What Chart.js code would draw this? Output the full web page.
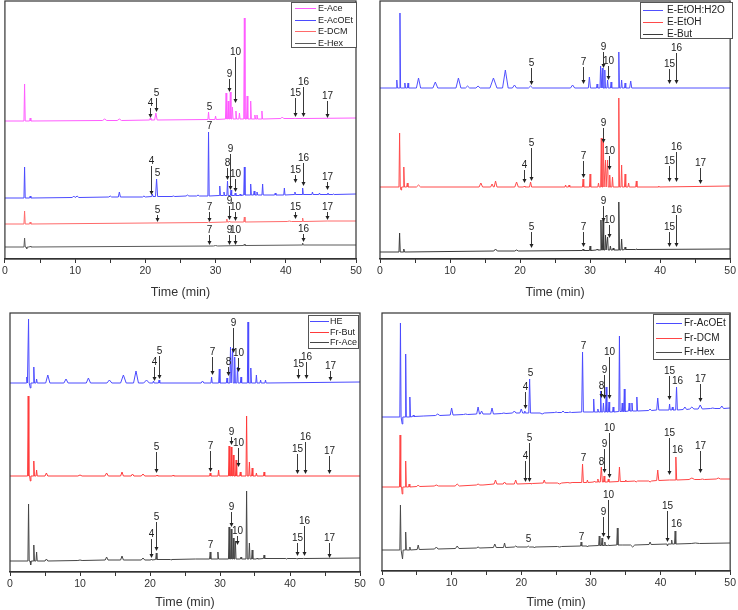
<!DOCTYPE html>
<html lang="en">
<head>
<meta charset="utf-8">
<title>Chromatograms</title>
<script src="https://cdn.jsdelivr.net/npm/chart.js"></script>
<style>
  body { margin: 0; background: #fff; }
  .panel { position: absolute; }
</style>
</head>
<body>
<div class="panel" style="left:0;top:0;width:370px;height:300px"><canvas id="chartA"></canvas></div>
<div class="panel" style="left:370px;top:0;width:368px;height:300px"><canvas id="chartB"></canvas></div>
<div class="panel" style="left:0;top:300px;width:370px;height:310px"><canvas id="chartC"></canvas></div>
<div class="panel" style="left:370px;top:300px;width:368px;height:310px"><canvas id="chartD"></canvas></div>
<script>
const timeTickLabels = [0, 10, 20, 30, 40, 50];

// peaks: [time, base, top, half width (optional)] - values relative to the trace offset
// marks: [label, time, arrow tip value (null = no arrow), label value]

// --- top left
const eAce = [[0,0,0],[2.8,0,37],[3.6,0,3],[14.2,0.5,2,0.3],[16.3,0.5,2,0.3],[20.7,1,3],[21.5,1,8,0.18],[29.0,1.5,9],[30.0,1.5,5],[31.5,2,28],[31.8,2,20],[32.1,2,29],[32.4,2,14],[32.9,2,10],[33.4,2,8],[34.1,2,103],[34.5,2,25],[35.0,2,20],[35.6,2,6],[35.9,2,6],[36.6,2,10],[39.5,2.5,4,0.2],[41.3,2.5,3],[42.4,2.5,3],[50,3,3]];
const eAcOEt = [[0,0,0],[2.8,0,31],[3.6,0,2],[9.8,0.5,2,0.2],[10.3,0.5,2,0.2],[15.0,1,2,0.2],[16.3,1,6,0.15],[19.8,1,2,0.2],[21.0,1.5,4],[21.6,1.5,19,0.15],[24.0,1.5,2,0.2],[26.0,2,3,0.2],[27.5,2,3,0.2],[29.0,2,66],[30.6,2.5,12],[31.2,2.5,6],[31.7,2.5,17],[32.2,2.5,8],[32.8,2.5,5],[33.5,2.5,4],[34.1,3,31],[35.0,3,14],[35.5,3,7],[35.9,3,6],[36.7,3,14],[38.5,3,5],[39.8,3,10],[41.3,3.5,6],[42.4,3.5,10],[43.8,3.5,6],[44.8,3.5,5],[46.0,3.5,5],[46.8,3.5,4],[50,4,4]];
const eDcm = [[0,0,0],[2.8,0,13],[3.6,0,2],[29.0,1.5,2],[31.6,2,5],[32.0,2,3],[34.1,2,7],[40.5,2.5,3,0.3],[42.4,2.5,6],[45.9,3,3,0.3],[50,3,3]];
const eHex = [[0,0,0],[2.8,0,9],[3.1,0,-2],[3.6,0,1],[30.0,1,1.5,0.3],[34.1,1.5,3],[42.4,2,4],[50,2,2]];
const offsetsA = [138, 61, 35, 12];
const eAceMarks = [['4',20.7,141,156],['5',21.5,147,166],['5',29.0,null,152],['9',31.9,167,185],['10',32.7,156,207],['15',41.3,142,166],['16',42.4,142,177],['17',45.8,141,163]];
const eAcOEtMarks = [['4',20.8,64,98],['5',21.6,null,86],['7',29.0,null,133],['8',31.6,79,96],['9',32.0,69,110],['10',32.7,67,85],['15',41.3,76,89],['16',42.5,73,101],['17',45.9,69,82]];
const eDcmMarks = [['5',21.6,37,49],['7',29.0,37,52],['9',31.9,39,58],['10',32.8,38,52],['15',41.3,40,52],['17',45.9,39,52]];
const eHexMarks = [['7',29.0,14,29],['9',31.9,14,29],['10',32.8,14,29],['16',42.4,17,30]];
const namesA = ['E-Ace', 'E-AcOEt', 'E-DCM', 'E-Hex'];

// --- top right
const eEtH2o = [[0,0,0],[2.4,0,8],[2.85,0,75],[3.55,0,5],[4.0,0,5],[5.5,0,10,0.3],[7.9,0,6,0.35],[11.2,0,10,0.35],[12.5,0,2,0.3],[14.0,0,2,0.3],[16.2,0,10,0.5],[17.9,0,18,0.4],[19.2,0,3,0.3],[21.5,0,2,0.3],[27.5,0,3,0.3],[29.9,0,11,0.15],[31.0,0,4],[31.5,0,22],[31.75,0,20],[32.1,0,18],[32.5,0,8],[33.0,0,6],[34.1,0,36],[34.5,0,8],[35.0,0,5],[35.8,0,7,0.15],[50,0,0]];
const eEtOH = [[0,0,0],[2.8,0,54],[3.0,0,-3],[3.4,0,20],[3.9,0,4],[5.5,0,2,0.3],[14.4,0,4,0.25],[16.0,0,3,0.2],[16.5,0,6,0.2],[19.5,0,5,0.25],[20.6,0,1],[21.5,0,5,0.15],[26.5,0,2],[27.0,0,2],[29.0,0,8],[30.0,0,13],[31.2,0,4],[31.6,0,49],[31.9,0,45],[32.2,0,27],[32.5,0,27],[32.8,0,12],[33.2,0,10],[34.1,0,89],[34.5,0,22],[35.0,0,13],[35.5,0,4],[36.6,0,6],[39.8,0,1],[50,1,1]];
const eBut = [[0,0,0],[2.8,0,19],[3.4,0,3],[16.5,1,3,0.25],[19.5,1,2,0.25],[29.0,1.5,3],[30.0,1.5,6],[31.0,2,3],[31.55,2,32],[31.85,2,32],[32.2,2,17],[32.5,2,15],[32.9,2,6],[33.3,2,4],[34.1,2,50],[34.5,2,13],[35.0,2.5,5],[36.6,2.5,3],[50,3,3]];
const offsetsB = [171, 72, 7];
const eEtH2oMarks = [['5',21.5,174,196],['7',29.0,175,197],['9',31.8,191,212],['10',32.6,179,198],['15',41.2,175,195],['16',42.3,175,211]];
const eEtOHMarks = [['4',20.6,76,94],['5',21.5,78,116],['7',29.0,81,103],['9',31.9,116,136],['10',32.7,89,108],['15',41.2,77,98],['16',42.3,77,112],['17',45.7,75,96]];
const eButMarks = [['5',21.5,11,32],['7',29.0,12,32],['9',31.9,37,58],['10',32.7,21,39],['15',41.2,12,32],['16',42.3,12,49]];
const namesB = ['E-EtOH:H2O', 'E-EtOH', 'E-But'];

// --- bottom left
const he = [[0,0,0],[2.4,0,6],[2.65,0,64],[2.9,0,-5],[3.4,0,16],[3.8,0,4],[5.4,0,8,0.3],[8.0,0,4,0.3],[11.2,0,5,0.3],[14.2,0,3,0.35],[16.2,0,8,0.4],[18.0,0,12,0.35],[19.5,0,3,0.4],[20.5,0,2],[21.3,0,3],[27.5,0,2,0.2],[28.8,0,6],[29.9,0,14],[31.0,0,5],[31.5,0,36],[31.8,0,35],[32.1,0,26],[32.5,0,16],[33.0,0,6],[34.0,0,61],[34.4,0,15],[35.2,0,8],[35.8,0,3],[36.5,0,3],[50,1,1]];
const frBut = [[0,0,0],[2.6,0,80],[2.9,0,-5],[3.4,0,15],[3.8,0,6],[5.2,0,3,0.2],[10.0,0,1,0.3],[13.8,0,3,0.25],[16.0,0,4,0.2],[17.5,0,2,0.2],[19.0,0,2,0.25],[21.0,0,1],[23.3,0,1],[28.6,0,3],[29.8,0,6],[31.3,0,30],[31.6,0,29],[31.9,0,21],[32.3,0,16],[32.9,0,4],[33.8,0,60],[34.2,0,14],[34.6,0,8],[35.2,0,3],[36.3,0,4],[50,0,0]];
const frAce = [[0,0,0],[2.65,0,57],[2.95,0,-4],[3.4,0,16],[3.8,0,9],[5.2,0,2,0.2],[10.0,0.5,1,0.3],[13.8,1,4,0.2],[16.0,1,5,0.2],[19.0,1,3,0.25],[20.2,1,2],[20.9,1.5,8],[23.0,1.5,1],[26.5,2,2,0.2],[28.6,2,9],[29.7,2,9],[31.3,2,34],[31.6,2,32],[31.9,2,23],[32.2,2,20],[33.0,2,4],[33.8,2,70],[34.2,2,18],[34.6,2,11],[35.3,2,3],[36.3,2.5,6],[39.5,2.5,2],[41.0,2.5,2],[42.0,2.5,3],[50,3,3]];
const offsetsC = [189, 96, 11];
const heMarks = [['4',20.5,191,210],['5',21.3,193,221],['7',28.8,197,220],['8',31.1,196,210],['9',31.8,219,249],['10',32.5,200,219],['15',41.2,193,208],['16',42.3,193,215],['17',45.7,191,206]];
const frButMarks = [['5',20.9,99,125],['7',28.6,100,126],['9',31.5,127,140],['10',32.5,105,129],['15',41.0,98,123],['16',42.1,98,135],['17',45.6,98,121]];
const frAceMarks = [['4',20.2,14,38],['5',20.9,21,55],['7',28.6,null,27],['9',31.5,45,65],['10',32.4,27,41],['15',41.0,16,34],['16',42.0,16,51],['17',45.5,14,34]];
const namesC = ['HE', 'Fr-But', 'Fr-Ace'];

// --- bottom right
const frAcOEt = [[0,0,0],[2.65,0,94],[2.9,0,-7],[3.4,0,63],[4.0,0,20],[4.5,0.5,2],[6.0,1,1],[8.0,1.5,3,0.3],[10.0,2,9,0.2],[12.0,2.5,3,0.3],[13.8,3,10,0.2],[14.3,3,6,0.2],[15.8,3,9,0.2],[17.5,3.5,4,0.3],[19.0,4,6,0.25],[20.0,4,8,0.2],[20.5,4,6],[21.2,4,38,0.12],[23.0,4,3,0.3],[25.0,4.5,5,0.2],[26.0,4.5,6,0.2],[27.0,4.5,5,0.2],[28.8,5,65,0.12],[30.4,5,18],[31.0,5,8],[31.4,5,26],[31.8,5,14],[32.2,5,30],[32.6,5,15],[33.2,5,10],[34.1,5.5,81],[34.5,5.5,14],[34.8,5.5,28],[35.5,6,14],[35.9,6,14],[36.6,6,20],[38.5,6.5,8,0.2],[39.6,7,19,0.15],[41.3,7,13],[41.7,7,10],[42.3,7,30,0.12],[43.5,7.5,10,0.25],[44.5,8,10,0.3],[45.7,8,12,0.3],[47.5,8.5,9,0.3],[48.8,8.5,11,0.25],[50,9,9]];
const frDcm = [[0,0,0],[2.6,0,52],[2.9,0,-7],[3.4,0,26],[3.9,0,3],[5.2,0.5,2,0.2],[7.8,1,2,0.3],[10.8,1,3,0.3],[13.8,2,3,0.25],[14.5,2,2,0.2],[16.3,3,7,0.2],[17.6,3,5,0.2],[19.2,3,7,0.2],[21.5,3.5,3],[23.3,4,7,0.15],[25.5,4,3,0.3],[27.0,4.5,4,0.3],[28.8,4.5,23,0.12],[29.5,4.5,7],[30.5,5,6],[31.0,5,8],[31.5,5,20,0.15],[31.9,5,11],[32.5,5,8],[34.1,5.5,20,0.12],[35.0,5.5,7],[36.5,6,5,0.2],[38.5,6,5,0.2],[39.6,6.5,17,0.15],[41.3,7,7],[41.8,7,7],[42.2,7,30,0.12],[44.5,7.5,9,0.4],[46.0,7.5,8,0.3],[48.3,8,9,0.3],[50,8,8]];
const frHex = [[0,0,0],[2.65,0,45],[2.95,0,-9],[3.4,0,18],[4.0,0,3],[5.2,0.5,5,0.15],[7.8,1,3,0.25],[10.8,1.5,4,0.25],[13.8,2,3,0.25],[16.2,2.5,6,0.2],[17.6,2.5,7,0.15],[19.2,3,4,0.2],[21.0,3,4,0.15],[21.9,3,2],[25.5,3.5,3,0.3],[28.6,4,8],[29.5,4,3],[31.2,4.5,14],[31.6,4.5,12],[32.0,4.5,8],[32.5,4.5,5],[33.8,5,22],[34.5,5,5],[36.0,5,3,0.3],[38.5,5.5,8,0.15],[41.0,6,4],[41.6,6,10],[42.1,6,19],[45.0,6.5,7,0.6],[50,7,7]];
const offsetsD = [154, 84, 21];
const frAcOEtMarks = [['4',20.5,162,184],['5',21.2,null,198],['7',28.8,null,225],['8',31.4,173,185],['9',31.9,172,201],['10',32.6,172,219],['15',41.2,171,200],['16',42.3,null,190],['17',45.7,169,192]];
const frDcmMarks = [['4',20.5,89,115],['5',21.1,89,133],['7',28.8,null,113],['8',31.4,null,109],['9',31.9,98,127],['10',32.6,93,143],['15',41.2,96,138],['16',42.3,null,121],['17',45.7,98,125]];
const frHexMarks = [['5',21.0,null,32],['7',28.6,null,34],['9',31.7,34,59],['10',32.4,31,76],['15',41.0,29,65],['16',42.2,null,47]];
const namesD = ['Fr-AcOEt', 'Fr-DCM', 'Fr-Hex'];

Chart.defaults.font.family = '"Liberation Sans", Arial, sans-serif';

function buildTrace(peaks, offset) {
  const pts = [];
  peaks.forEach(([t, base, top, w = 0.09]) => {
    if (top === base) { pts.push({x: t, y: offset + base}); return; }
    pts.push({x: t - w, y: offset + base}, {x: t, y: offset + top}, {x: t + w, y: offset + base});
  });
  return pts;
}

function makePanel(id, traces, pad, axisHeight, yMax, legend) {
  const overlay = {
    id: 'overlay',
    afterDraw(chart) {
      const {ctx, chartArea: a, scales: {x, y}} = chart;
      ctx.save();
      // peak numbers and arrows
      ctx.font = '10px "Liberation Sans", Arial, sans-serif';
      ctx.textAlign = 'center';
      ctx.textBaseline = 'middle';
      ctx.fillStyle = '#222';
      ctx.strokeStyle = '#222';
      ctx.lineWidth = 0.9;
      traces.forEach(tr => tr.marks.forEach(([label, t, tip, at]) => {
        const px = Math.round(x.getPixelForValue(t)) + 0.5;
        const ly = y.getPixelForValue(at);
        ctx.fillText(label, px, ly);
        if (tip === null) return;
        const ty = y.getPixelForValue(tip);
        ctx.beginPath(); ctx.moveTo(px, ly + 5); ctx.lineTo(px, ty - 3); ctx.stroke();
        ctx.beginPath(); ctx.moveTo(px - 2, ty - 4); ctx.lineTo(px + 2, ty - 4); ctx.lineTo(px, ty); ctx.closePath(); ctx.fill();
      }));
      // frame
      ctx.strokeStyle = '#333';
      ctx.lineWidth = 1.2;
      ctx.strokeRect(a.left, a.top, a.right - a.left, a.bottom - a.top);
      // legend box
      ctx.fillStyle = '#fff';
      ctx.fillRect(legend.x, legend.y, legend.w, legend.h);
      ctx.strokeStyle = '#555';
      ctx.lineWidth = 1;
      ctx.strokeRect(legend.x + 0.5, legend.y + 0.5, legend.w, legend.h);
      ctx.font = legend.font + 'px "Liberation Sans", Arial, sans-serif';
      ctx.textAlign = 'left';
      traces.forEach((tr, i) => {
        const yy = Math.round(legend.y + legend.row0 + i * legend.rowH) + 0.5;
        ctx.strokeStyle = tr.color;
        ctx.beginPath(); ctx.moveTo(legend.line[0], yy); ctx.lineTo(legend.line[1], yy); ctx.stroke();
        ctx.fillStyle = '#222';
        ctx.fillText(tr.label, legend.textX, yy);
      });
      ctx.restore();
    }
  };

  new Chart(document.getElementById(id), {
    type: 'line',
    data: {
      datasets: traces.map(tr => ({
        label: tr.label,
        data: buildTrace(tr.peaks, tr.offset),
        borderColor: tr.color,
        borderWidth: 1,
        pointRadius: 0,
        tension: 0,
        fill: false
      }))
    },
    options: {
      responsive: true,
      maintainAspectRatio: false,
      animation: false,
      layout: { padding: pad },
      plugins: { legend: { display: false }, tooltip: { enabled: false } },
      scales: {
        x: {
          type: 'linear', min: 0, max: 50,
          ticks: {
            stepSize: 5, autoSkip: false, maxRotation: 0, padding: 2, color: '#333',
            font: { size: 10.5 },
            callback: v => timeTickLabels.includes(v) ? String(v) : ''
          },
          grid: { drawOnChartArea: false, drawTicks: true, tickLength: 4, color: '#333' },
          border: { display: true, color: '#333', width: 1.2 },
          title: { display: true, text: 'Time (min)', color: '#333', font: { size: 12.5 }, padding: 0 },
          afterFit: s => { s.height = axisHeight; }
        },
        y: { display: false, min: 0, max: yMax }
      }
    },
    plugins: [overlay]
  });
}

makePanel('chartA', [
  { label: namesA[0], color: '#ff5cff', peaks: eAce, offset: offsetsA[0], marks: eAceMarks },
  { label: namesA[1], color: '#4b4bff', peaks: eAcOEt, offset: offsetsA[1], marks: eAcOEtMarks },
  { label: namesA[2], color: '#ff6a6a', peaks: eDcm, offset: offsetsA[2], marks: eDcmMarks },
  { label: namesA[3], color: '#5a5a5a', peaks: eHex, offset: offsetsA[3], marks: eHexMarks }
], { left: 3, right: 14, top: 1, bottom: 0 }, 41, 258,
  { x: 291, y: 2, w: 65, h: 45, row0: 6, rowH: 11.7, line: [295, 316], textX: 318, font: 9 });

makePanel('chartB', [
  { label: namesB[0], color: '#5050ff', peaks: eEtH2o, offset: offsetsB[0], marks: eEtH2oMarks },
  { label: namesB[1], color: '#ff4a4a', peaks: eEtOH, offset: offsetsB[1], marks: eEtOHMarks },
  { label: namesB[2], color: '#3a3a3a', peaks: eBut, offset: offsetsB[2], marks: eButMarks }
], { left: 10, right: 6, top: 1, bottom: 0 }, 41, 258,
  { x: 270, y: 2, w: 92, h: 36, row0: 8, rowH: 12, line: [273, 293], textX: 297, font: 10 });

makePanel('chartC', [
  { label: namesC[0], color: '#4b4bff', peaks: he, offset: offsetsC[0], marks: heMarks },
  { label: namesC[1], color: '#ff3a3a', peaks: frBut, offset: offsetsC[1], marks: frButMarks },
  { label: namesC[2], color: '#454545', peaks: frAce, offset: offsetsC[2], marks: frAceMarks }
], { left: 10, right: 10, top: 13, bottom: 0 }, 38, 259,
  { x: 308, y: 15, w: 50, h: 33, row0: 6, rowH: 10.5, line: [310, 329], textX: 330, font: 9 });

makePanel('chartD', [
  { label: namesD[0], color: '#4b4bff', peaks: frAcOEt, offset: offsetsD[0], marks: frAcOEtMarks },
  { label: namesD[1], color: '#ff4545', peaks: frDcm, offset: offsetsD[1], marks: frDcmMarks },
  { label: namesD[2], color: '#4a4a4a', peaks: frHex, offset: offsetsD[2], marks: frHexMarks }
], { left: 12, right: 6, top: 13, bottom: 0 }, 39, 258,
  { x: 283, y: 14, w: 76, h: 45, row0: 9, rowH: 14.5, line: [286, 312], textX: 314, font: 10 });
</script>
</body>
</html>
